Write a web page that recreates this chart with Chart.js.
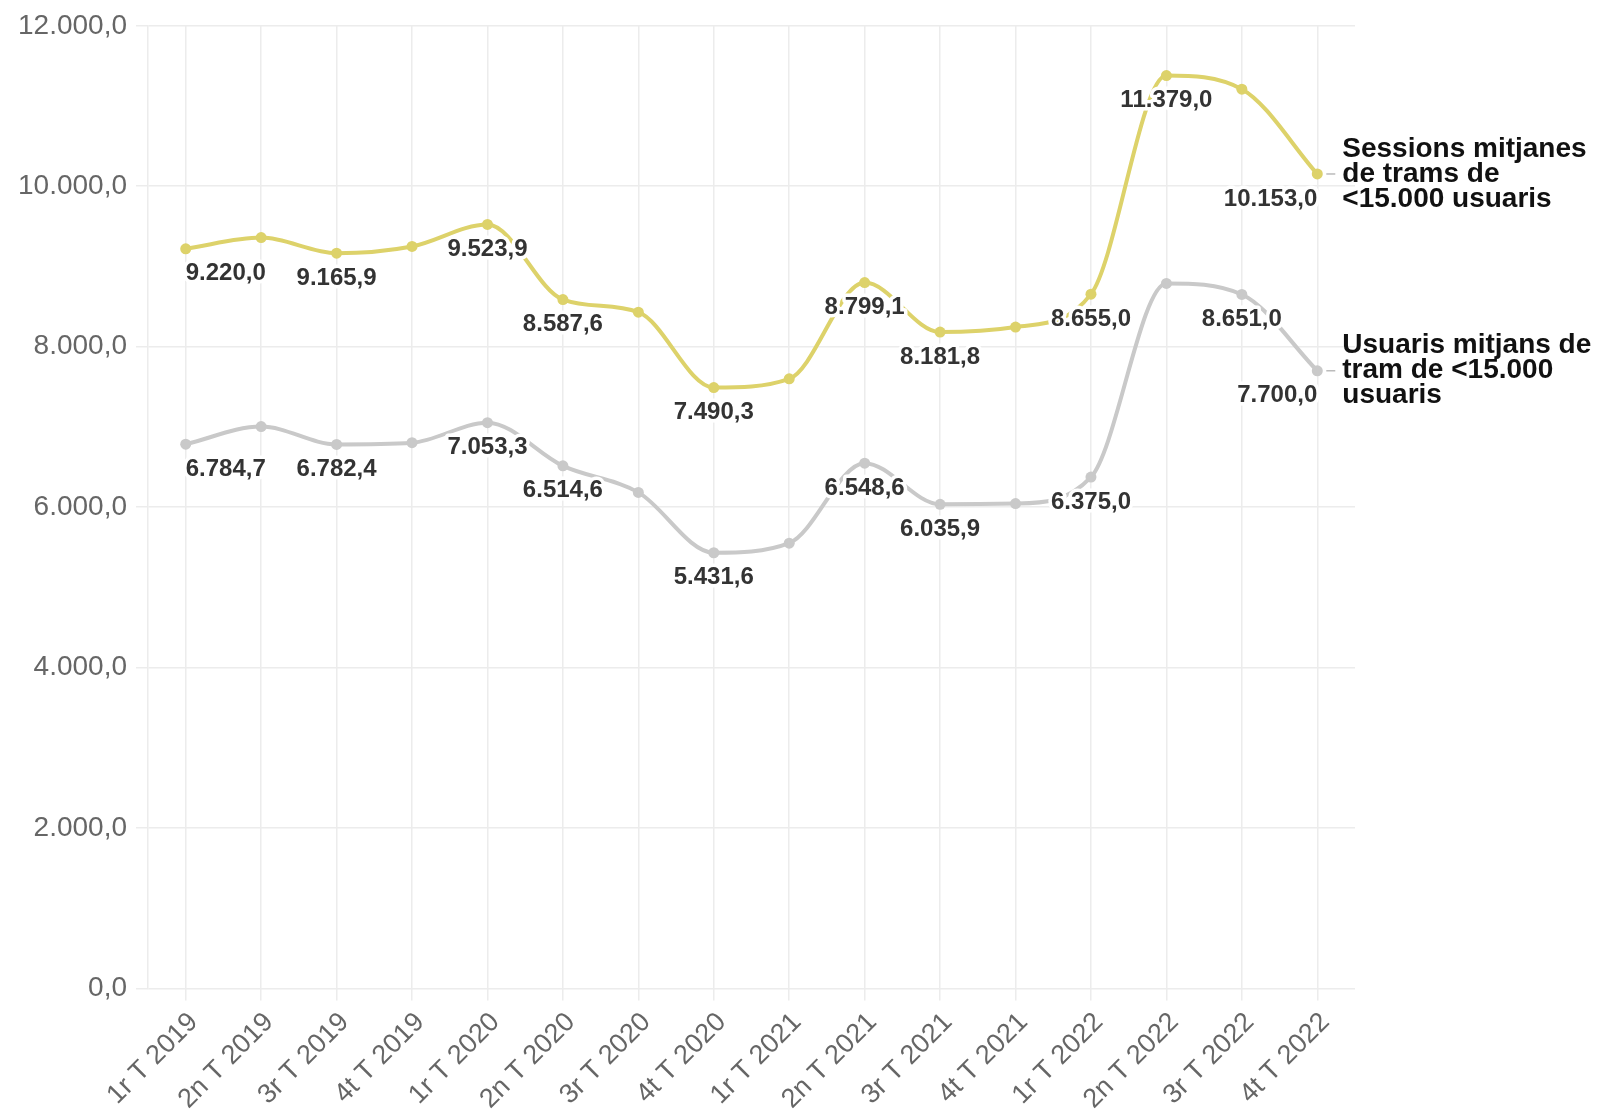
<!DOCTYPE html>
<html lang="ca">
<head>
<meta charset="utf-8">
<title>Sessions i usuaris mitjans de trams de &lt;15.000 usuaris</title>
<script src="https://cdn.jsdelivr.net/npm/chart.js@4/dist/chart.umd.min.js"></script>
<style>
  html, body { margin: 0; padding: 0; background: #ffffff; }
  #wrap { width: 1598px; height: 1113px; }
</style>
</head>
<body>
<div id="wrap"><canvas id="chart" width="1598" height="1113"></canvas></div>
<script>
// Quarters on the x axis
const quarters = [
  '1r T 2019', '2n T 2019', '3r T 2019', '4t T 2019',
  '1r T 2020', '2n T 2020', '3r T 2020', '4t T 2020',
  '1r T 2021', '2n T 2021', '3r T 2021', '4t T 2021',
  '1r T 2022', '2n T 2022', '3r T 2022', '4t T 2022'
];

// Average sessions of segments with fewer than 15,000 users
const sessions = [
  9220.0, 9360, 9165.9, 9250,
  9523.9, 8587.6, 8430, 7490.3,
  7600, 8799.1, 8181.8, 8245,
  8655.0, 11379.0, 11210, 10153.0
];

// Average users of segments with fewer than 15,000 users
const users = [
  6784.7, 7005, 6782.4, 6803,
  7053.3, 6514.6, 6184, 5431.6,
  5551, 6548.6, 6035.9, 6044,
  6375.0, 8789, 8651.0, 7700.0
];

// Which points carry a value label
const sessionsLabelled = [0, 2, 4, 5, 7, 9, 10, 12, 13, 15];
const usersLabelled = [0, 2, 4, 5, 7, 9, 10, 12, 14, 15];

// Series names shown at the end of each line
const sessionsName = ['Sessions mitjanes', 'de trams de', '<15.000 usuaris'];
const usersName = ['Usuaris mitjans de', 'tram de <15.000', 'usuaris'];

// Value axis
const yMin = 0;
const yMax = 12000;
const yStep = 2000;

const YELLOW = '#ddd26a';
const GREY = '#c9c9c9';
const GRID = '#ececec';
const FONT = '"Liberation Sans", Arial, sans-serif';

function fmt(v) {
  const parts = v.toFixed(1).split('.');
  return parts[0].replace(/\B(?=(\d{3})+(?!\d))/g, '.') + ',' + parts[1];
}

// Value labels with a white halo, plus series names at the line ends
const labelPlugin = {
  id: 'lineLabels',
  afterDatasetsDraw(chart) {
    const ctx = chart.ctx;
    const sets = [
      { idx: 0, show: sessionsLabelled, name: sessionsName },
      { idx: 1, show: usersLabelled, name: usersName }
    ];
    ctx.save();
    sets.forEach(s => {
      const meta = chart.getDatasetMeta(s.idx);
      const data = chart.data.datasets[s.idx].data;
      const last = data.length - 1;
      ctx.font = 'bold 24px ' + FONT;
      ctx.textBaseline = 'middle';
      ctx.lineJoin = 'round';
      s.show.forEach(i => {
        const pt = meta.data[i];
        const text = fmt(data[i]);
        ctx.textAlign = i === 0 ? 'left' : (i === last ? 'right' : 'center');
        const y = pt.y + 25;
        ctx.strokeStyle = '#ffffff';
        ctx.lineWidth = 7;
        ctx.strokeText(text, pt.x, y);
        ctx.fillStyle = '#333333';
        ctx.fillText(text, pt.x, y);
      });
      // series name next to the final point
      const end = meta.data[last];
      ctx.strokeStyle = '#bbbbbb';
      ctx.lineWidth = 1.5;
      ctx.beginPath();
      ctx.moveTo(end.x + 9, end.y);
      ctx.lineTo(end.x + 18, end.y);
      ctx.stroke();
      ctx.font = 'bold 28px ' + FONT;
      ctx.textAlign = 'left';
      ctx.fillStyle = '#111111';
      const lh = 25;
      s.name.forEach((line, k) => {
        ctx.fillText(line, end.x + 25, end.y + (k - (s.name.length - 1) / 2) * lh);
      });
    });
    ctx.restore();
  }
};

new Chart(document.getElementById('chart'), {
  type: 'line',
  data: {
    labels: quarters,
    datasets: [
      {
        label: sessionsName.join(' '),
        data: sessions,
        borderColor: YELLOW,
        backgroundColor: YELLOW,
        borderWidth: 4,
        pointRadius: 5.5,
        pointBorderWidth: 0,
        cubicInterpolationMode: 'monotone'
      },
      {
        label: usersName.join(' '),
        data: users,
        borderColor: GREY,
        backgroundColor: GREY,
        borderWidth: 4,
        pointRadius: 5.5,
        pointBorderWidth: 0,
        cubicInterpolationMode: 'monotone'
      }
    ]
  },
  options: {
    responsive: false,
    animation: false,
    devicePixelRatio: 1,
    layout: { padding: { left: 0, top: 21, right: 243, bottom: 0 } },
    plugins: {
      legend: { display: false },
      tooltip: { enabled: false }
    },
    scales: {
      x: {
        offset: true,
        grid: { color: GRID, lineWidth: 1.5, tickLength: 12, offset: false },
        border: { display: false },
        ticks: {
          autoSkip: false,
          maxRotation: 45,
          minRotation: 45,
          padding: 6,
          labelOffset: 8,
          color: '#666666',
          font: { family: FONT, size: 27 }
        },
        afterFit(scale) { scale.height = 1113 - 988.5; }
      },
      y: {
        min: yMin,
        max: yMax,
        grid: { color: GRID, lineWidth: 1.5, tickLength: 12 },
        border: { display: true, color: GRID, width: 1.5 },
        ticks: {
          stepSize: yStep,
          padding: 9,
          color: '#666666',
          font: { family: FONT, size: 28 },
          callback: v => fmt(v)
        },
        afterFit(scale) { scale.width = 148; }
      }
    }
  },
  plugins: [labelPlugin]
});
</script>
</body>
</html>
